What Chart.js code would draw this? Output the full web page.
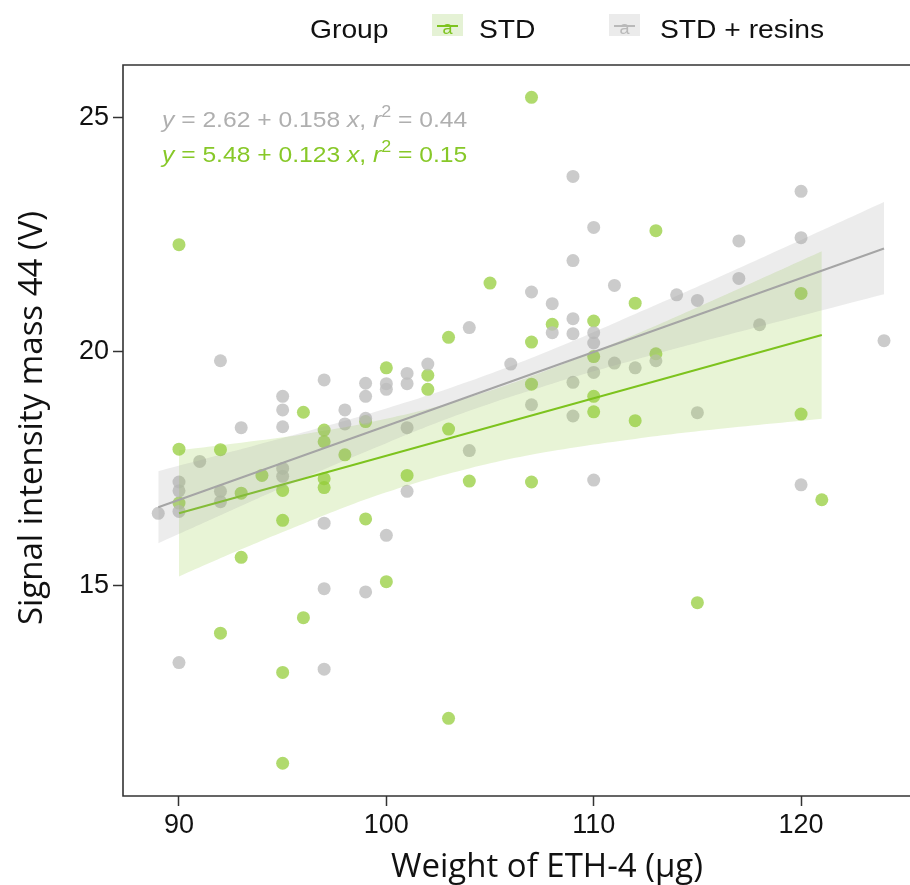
<!DOCTYPE html>
<html>
<head>
<meta charset="utf-8">
<script src="https://cdn.jsdelivr.net/npm/chart.js@4.4.1/dist/chart.umd.min.js"></script>
<style>
  html, body { margin: 0; padding: 0; background: #fff; }
  #wrap { width: 910px; height: 885px; position: relative; }
</style>
</head>
<body>
<div id="wrap"><canvas id="grafico"></canvas></div>
<script>
// STD (verde)
var stdX = [90, 105, 107, 113, 112, 120, 108, 110, 107, 110, 113, 107, 110, 110, 112, 120, 107, 121,
            103, 100, 102, 102, 96, 99, 97, 97, 103, 104, 98, 90, 92, 94, 97, 97, 95, 101, 93, 90,
            95, 99, 93, 100, 96, 92, 95, 103, 95, 115];
var stdY = [22.29, 21.47, 25.44, 22.59, 21.04, 21.25, 20.59, 20.66, 20.21, 19.90, 19.96, 19.31, 19.05, 18.72, 18.53, 18.67, 17.22, 16.84,
            20.31, 19.66, 19.50, 19.20, 18.71, 18.51, 18.33, 18.08, 18.35, 17.24, 17.80, 17.92, 17.91, 17.36, 17.29, 17.10, 17.04, 17.36, 16.98, 16.77,
            16.40, 16.43, 15.61, 15.09, 14.32, 13.99, 13.15, 12.17, 11.21, 14.64];

// STD + resins (cinza)
var resX = [109, 110, 109, 117, 120, 120, 107, 108, 111, 114, 115, 117, 109, 108, 109, 110, 110, 106, 111, 112, 113, 118, 124,
            109, 110, 107, 109, 115, 110, 120, 104, 92, 101, 102, 101, 97, 99, 100, 100, 99, 95, 95, 98, 95, 93, 98, 99, 101,
            104, 91, 95, 95, 101, 90, 90, 92, 92, 90, 89, 97, 100, 97, 99, 90, 97];
var resY = [23.75, 22.66, 21.95, 22.37, 23.43, 22.44, 21.28, 21.03, 21.42, 21.22, 21.10, 21.57, 20.71, 20.41, 20.39, 20.41, 20.19, 19.74, 19.76, 19.66, 19.81, 20.58, 20.24,
            19.35, 19.56, 18.87, 18.63, 18.70, 17.26, 17.16, 20.52, 19.81, 19.54, 19.74, 19.32, 19.40, 19.33, 19.32, 19.20, 19.05, 19.05, 18.76, 18.76, 18.40, 18.38, 18.46, 18.58, 18.38,
            17.89, 17.66, 17.51, 17.34, 17.02, 17.22, 17.03, 17.02, 16.80, 16.59, 16.55, 16.34, 16.08, 14.94, 14.87, 13.36, 13.22];

// retas de regressao (extremos)
var stdFitX = [90, 121];
var stdFitY = [16.55, 20.36];
var resFitX = [89, 124];
var resFitY = [16.68, 22.21];

// faixas de confianca
var stdBandX = [90, 93, 96, 100, 104, 108, 112, 116, 121];
var stdBandLow = [15.20, 15.78, 16.33, 17.00, 17.51, 17.88, 18.14, 18.35, 18.57];
var stdBandHigh = [17.90, 18.06, 18.24, 18.57, 19.03, 19.65, 20.37, 21.15, 22.15];
var resBandX = [89, 92, 96, 100, 104, 108, 112, 116, 120, 124];
var resBandLow = [15.91, 16.51, 17.30, 18.05, 18.74, 19.32, 19.83, 20.31, 20.77, 21.23];
var resBandHigh = [17.45, 17.80, 18.28, 18.79, 19.37, 20.05, 20.81, 21.59, 22.39, 23.20];

// equacoes: intercepto, inclinacao, r2
var resEq = ['2.62', '0.158', '0.44'];
var stdEq = ['5.48', '0.123', '0.15'];

var xTicks = [90, 100, 110, 120];
var yTicks = [15, 20, 25];
var grupos = ['STD', 'STD + resins'];
var tituloX = 'Weight of ETH-4 (μg)';
var tituloY = 'Signal intensity mass 44 (V)';

function pares(xs, ys) {
    return xs.map(function (x, i) { return { x: x, y: ys[i] }; });
}

var VERDE = 'rgb(125, 195, 30)';
var CINZA = 'rgb(165, 165, 165)';
var FONTE_TITULO = '33px "Open Sans", sans-serif';

// desenha texto com leve alongamento horizontal (como na figura original)
function desenhaPartes(ctx, x, y, partes, cor, tam, esticar) {
    ctx.save();
    ctx.translate(x, y);
    ctx.scale(esticar, 1);
    ctx.fillStyle = cor;
    ctx.textBaseline = 'alphabetic';
    ctx.textAlign = 'left';
    var cx = 0;
    partes.forEach(function (p) {
        var t = p[0], ital = p[1], sup = p[2];
        var s = sup ? Math.round(tam * 0.72) : tam;
        ctx.font = (ital ? 'italic ' : '') + s + 'px "Liberation Sans", Arial, sans-serif';
        ctx.fillText(t, cx, sup ? -tam * 0.45 : 0);
        cx += ctx.measureText(t).width;
    });
    ctx.restore();
}

function partesEq(eq) {
    return [['y', true], [' = '], [eq[0]], [' + '], [eq[1]], [' '], ['x', true], [', '],
            ['r', true], ['2', false, true], [' = '], [eq[2]]];
}

var extras = {
    id: 'extras',
    afterDraw: function (chart) {
        var ctx = chart.ctx;
        var a = chart.chartArea;

        // moldura (o lado direito fica fora da imagem)
        ctx.save();
        ctx.strokeStyle = '#333';
        ctx.lineWidth = 1.6;
        ctx.beginPath();
        ctx.moveTo(912, a.top);
        ctx.lineTo(a.left, a.top);
        ctx.lineTo(a.left, a.bottom);
        ctx.lineTo(912, a.bottom);
        ctx.stroke();
        ctx.restore();

        // titulos dos eixos
        ctx.save();
        ctx.fillStyle = '#111';
        ctx.font = FONTE_TITULO;
        ctx.textAlign = 'center';
        ctx.textBaseline = 'alphabetic';
        ctx.fillText(tituloX, 547, 877);
        ctx.translate(42, 418);
        ctx.rotate(-Math.PI / 2);
        ctx.fillText(tituloY, 0, 0);
        ctx.restore();

        // equacoes
        desenhaPartes(ctx, a.left + 39, a.top + 62, partesEq(resEq), 'rgb(175, 175, 175)', 22, 1.12);
        desenhaPartes(ctx, a.left + 39, a.top + 97, partesEq(stdEq), 'rgb(135, 200, 40)', 22, 1.12);

        // legenda
        desenhaPartes(ctx, 310, 38, [['Group']], '#111', 25, 1.13);
        var chaves = [
            { x: 432, fundo: 'rgb(229, 242, 213)', cor: VERDE, texto: grupos[0], tx: 479 },
            { x: 609, fundo: 'rgb(235, 235, 235)', cor: 'rgb(185, 185, 185)', texto: grupos[1], tx: 660 }
        ];
        chaves.forEach(function (k) {
            ctx.save();
            ctx.fillStyle = k.fundo;
            ctx.fillRect(k.x, 14, 31, 22);
            ctx.strokeStyle = k.cor;
            ctx.lineWidth = 2;
            ctx.beginPath();
            ctx.moveTo(k.x + 5, 26);
            ctx.lineTo(k.x + 26, 26);
            ctx.stroke();
            ctx.fillStyle = k.cor;
            ctx.font = '18px "Liberation Sans", Arial, sans-serif';
            ctx.textAlign = 'center';
            ctx.textBaseline = 'alphabetic';
            ctx.fillText('a', k.x + 15.5, 34);
            ctx.restore();
            desenhaPartes(ctx, k.tx, 38, [[k.texto]], '#111', 25, 1.13);
        });
    }
};

function inicializarGrafico() {
    new Chart(document.getElementById('grafico').getContext('2d'), {
        type: 'scatter',
        data: {
            datasets: [
                {
                    label: grupos[0],
                    data: pares(stdX, stdY),
                    backgroundColor: 'rgba(150, 205, 60, 0.75)',
                    borderWidth: 0,
                    pointRadius: 6.5,
                    order: 10
                },
                {
                    label: grupos[1],
                    data: pares(resX, resY),
                    backgroundColor: 'rgba(190, 190, 190, 0.8)',
                    borderWidth: 0,
                    pointRadius: 6.5,
                    order: 9
                },
                {
                    type: 'line',
                    data: pares(stdBandX, stdBandLow),
                    borderColor: 'rgba(0,0,0,0)',
                    pointRadius: 0,
                    tension: 0.4,
                    fill: false,
                    order: 8
                },
                {
                    type: 'line',
                    data: pares(stdBandX, stdBandHigh),
                    borderColor: 'rgba(0,0,0,0)',
                    backgroundColor: 'rgba(140, 200, 50, 0.2)',
                    pointRadius: 0,
                    tension: 0.4,
                    fill: '-1',
                    order: 8
                },
                {
                    type: 'line',
                    data: pares(stdFitX, stdFitY),
                    borderColor: VERDE,
                    borderWidth: 2,
                    pointRadius: 0,
                    fill: false,
                    order: 7
                },
                {
                    type: 'line',
                    data: pares(resBandX, resBandLow),
                    borderColor: 'rgba(0,0,0,0)',
                    pointRadius: 0,
                    tension: 0.4,
                    fill: false,
                    order: 6
                },
                {
                    type: 'line',
                    data: pares(resBandX, resBandHigh),
                    borderColor: 'rgba(0,0,0,0)',
                    backgroundColor: 'rgba(160, 160, 160, 0.2)',
                    pointRadius: 0,
                    tension: 0.4,
                    fill: '-1',
                    order: 6
                },
                {
                    type: 'line',
                    data: pares(resFitX, resFitY),
                    borderColor: CINZA,
                    borderWidth: 2,
                    pointRadius: 0,
                    fill: false,
                    order: 5
                }
            ]
        },
        options: {
            responsive: false,
            animation: false,
            layout: { padding: { top: 65, right: 0, left: 0, bottom: 0 } },
            plugins: {
                legend: { display: false },
                tooltip: { enabled: false }
            },
            scales: {
                x: {
                    type: 'linear',
                    min: 87.3,
                    max: 124.94,
                    afterBuildTicks: function (s) { s.ticks = xTicks.map(function (v) { return { value: v }; }); },
                    afterFit: function (s) { s.height = 89; s.paddingLeft = 0; s.paddingRight = 0; },
                    grid: { drawOnChartArea: false, drawTicks: true, tickLength: 10, tickWidth: 1.5, tickColor: '#333' },
                    border: { display: false },
                    ticks: {
                        color: '#111',
                        padding: 3,
                        maxRotation: 0,
                        font: { family: '"Liberation Sans", Arial, sans-serif', size: 27 }
                    },
                    title: { display: false }
                },
                y: {
                    min: 10.51,
                    max: 26.13,
                    afterBuildTicks: function (s) { s.ticks = yTicks.map(function (v) { return { value: v }; }); },
                    afterFit: function (s) { s.width = 123; s.paddingTop = 0; s.paddingBottom = 0; },
                    grid: { drawOnChartArea: false, drawTicks: true, tickLength: 10, tickWidth: 1.5, tickColor: '#333' },
                    border: { display: false },
                    ticks: {
                        color: '#111',
                        padding: 4,
                        font: { family: '"Liberation Sans", Arial, sans-serif', size: 27 }
                    },
                    title: { display: false }
                }
            }
        },
        plugins: [extras]
    });
}

var cv = document.getElementById('grafico');
cv.width = 910;
cv.height = 885;
cv.style.width = '910px';
cv.style.height = '885px';
window.onload = inicializarGrafico;
</script>
</body>
</html>
